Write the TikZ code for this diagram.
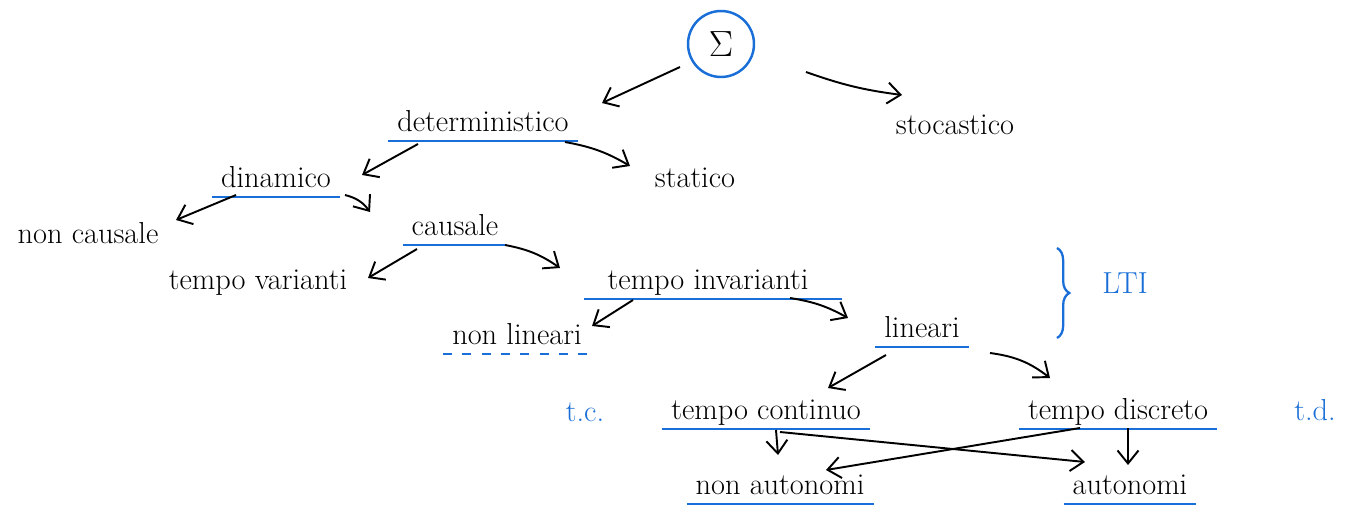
\documentclass[tikz,border=0pt]{standalone}
\usepackage{amsmath}
\usepackage{tikz}
\usetikzlibrary{positioning, arrows.meta, decorations.pathreplacing}
\definecolor{penblue}{RGB}{25,110,215}

\begin{document}
\begin{tikzpicture}[x=0.02cm,y=-0.02cm,>={Straight Barb[length=2.6mm,width=4.2mm]}]
            \tikzset{word/.style={font=\LARGE,inner xsep=5pt,inner ysep=2pt,text height=12pt,text depth=3pt}}
            \tikzset{ul/.style={penblue,line width=1.3pt}}
            \tikzset{arr/.style={->,line width=1.1pt}}
            \tikzset{note/.style={font=\LARGE,text=penblue}}

            \useasboundingbox (0,0) rectangle (1362,504);

            \node[circle,draw=penblue,line width=1.4pt,minimum size=1.32cm,inner sep=0pt,font=\huge] (sigma) at (721,44) {$\Sigma$};

            \node[word] (det)     at (483,124) {deterministico};
            \node[word] (stoc)    at (955,127) {stocastico};
            \node[word] (din)     at (276,180) {dinamico};
            \node[word] (stat)    at (695,180) {statico};
            \node[word] (noncaus) at (88,236)  {non causale};
            \node[word] (caus)    at (455,228) {causale};
            \node[word] (tvar)    at (258,282) {tempo varianti};
            \node[word] (tinv)    at (708,282) {tempo invarianti};
            \node[word] (nonlin)  at (517,337) {non lineari};
            \node[word] (lin)     at (922,330) {lineari};
            \node[word] (tcont)   at (766,412) {tempo continuo};
            \node[word] (tdisc)   at (1118,412) {tempo discreto};
            \node[word] (nonaut)  at (780,487) {non autonomi};
            \node[word] (aut)     at (1130,487) {autonomi};

            \node[note] (tc)  at (585,412)  {t.c.};
            \node[note] (td)  at (1315,410) {t.d.};
            \node[note] (lti) at (1125,283) {LTI};

            % sottolineature
            \draw[ul] (det.south west) -- (det.south east);
            \draw[ul] (din.south west) -- (din.south east);
            \draw[ul] (caus.south west) -- (caus.south east);
            \draw[ul] ([xshift=-0.3cm]tinv.south west) -- ([xshift=0.5cm]tinv.south east);
            \draw[ul,dash pattern=on 5pt off 6pt] (nonlin.south west) -- (nonlin.south east);
            \draw[ul] (lin.south west) -- (lin.south east);
            \draw[ul] (tcont.south west) -- (tcont.south east);
            \draw[ul] (tdisc.south west) -- (tdisc.south east);
            \draw[ul] (nonaut.south west) -- (nonaut.south east);
            \draw[ul] (aut.south west) -- (aut.south east);

            \draw[penblue,line width=1.3pt,decorate,decoration={brace,amplitude=7pt}] ([shift={(-68,-35)}]lti.center) -- ([shift={(-68,55)}]lti.center);

            \draw[arr] ([shift={(-41,23)}]sigma.center) -- ([shift={(119,-21)}]det.center);
            \draw[arr] ([shift={(85,28)}]sigma.center) to[bend right=6] ([shift={(-53,-32)}]stoc.center);

            \draw[arr] ([shift={(-65,20)}]det.center) -- ([shift={(86,-5)}]din.center);
            \draw[arr] ([shift={(82,18)}]det.center) to[bend left=10] ([shift={(-65,-14)}]stat.center);

            \draw[arr] ([shift={(-40,15)}]din.center) -- ([shift={(88,-16)}]noncaus.center);
            \draw[arr] ([shift={(69,15)}]din.center) to[bend left=20] ([shift={(-85,-16)}]caus.center);

            \draw[arr] ([shift={(-38,21)}]caus.center) -- ([shift={(110,-4)}]tvar.center);
            \draw[arr] ([shift={(50,17)}]caus.center) to[bend left=12] ([shift={(-148,-14)}]tinv.center);

            \draw[arr] ([shift={(-75,18)}]tinv.center) -- ([shift={(75,-11)}]nonlin.center);
            \draw[arr] ([shift={(82,16)}]tinv.center) to[bend left=10] ([shift={(-74,-12)}]lin.center);

            \draw[arr] ([shift={(-36,25)}]lin.center) -- ([shift={(62,-24)}]tcont.center);
            \draw[arr] ([shift={(68,23)}]lin.center) to[bend left=15] ([shift={(-68,-34)}]tdisc.center);

            \draw[arr] ([shift={(10,18)}]tcont.center) -- ([shift={(-2,-32)}]nonaut.center);
            \draw[arr] ([shift={(14,20)}]tcont.center) -- ([shift={(-45,-25)}]aut.center);
            \draw[arr] ([shift={(-38,16)}]tdisc.center) -- ([shift={(46,-17)}]nonaut.center);
            \draw[arr] ([shift={(10,16)}]tdisc.center) -- ([shift={(-2,-22)}]aut.center);

\end{tikzpicture}
\end{document}
